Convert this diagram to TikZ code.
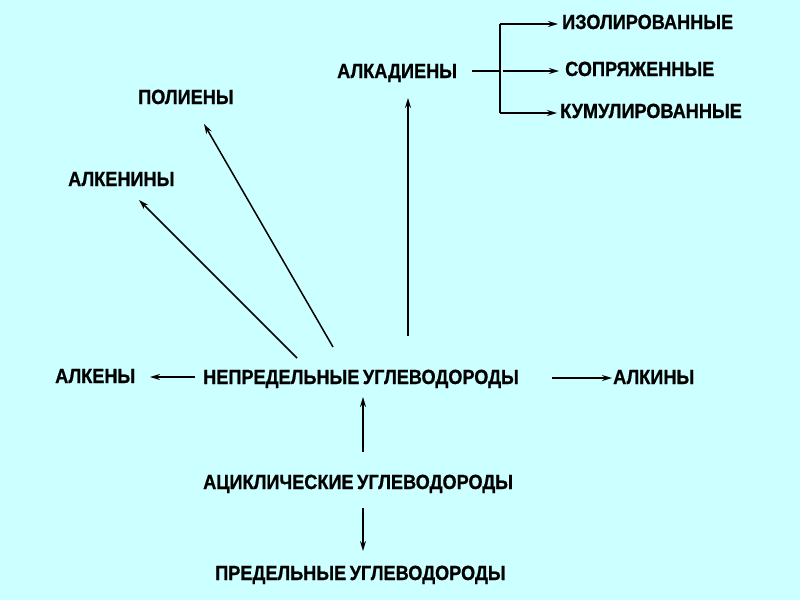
\documentclass[tikz,border=0pt]{standalone}
\usepackage{fontspec}
\setmainfont{Liberation Sans}
\newfontfamily\lblfont{Liberation Sans Bold}[FakeStretch=0.885,FakeBold=0.8]
\newcommand{\lblstyle}{\lblfont\fontsize{20.5}{22}\selectfont\spaceskip=3.5pt\relax}
\usetikzlibrary{arrows.meta}
\definecolor{bg}{HTML}{CCFFFF}
\begin{document}
\begin{tikzpicture}[x=1pt,y=-1pt,
  lbl/.style={anchor=base west,inner sep=0pt,font=\lblstyle},
  conn/.style={line width=1.5pt,-{Stealth[length=10pt,width=6pt]}},
  plain/.style={line width=1.5pt}]
\fill[bg] (0,0) rectangle (800,600);
\useasboundingbox (0,0) rectangle (800,600);
% labels
\node[lbl] (izo) at (562,29) {ИЗОЛИРОВАННЫЕ};
\node[lbl] (sop) at (565,76) {СОПРЯЖЕННЫЕ};
\node[lbl] (kum) at (560,118) {КУМУЛИРОВАННЫЕ};
\node[lbl] (alkad) at (337,78) {АЛКАДИЕНЫ};
\node[lbl] (pol) at (138,104) {ПОЛИЕНЫ};
\node[lbl] (alken) at (68,186) {АЛКЕНИНЫ};
\node[lbl] (alk) at (55,383) {АЛКЕНЫ};
\node[lbl] (nep) at (203,384) {НЕПРЕДЕЛЬНЫЕ УГЛЕВОДОРОДЫ};
\node[lbl] (alkin) at (613,384) {АЛКИНЫ};
\node[lbl] (acik) at (203,489) {АЦИКЛИЧЕСКИЕ УГЛЕВОДОРОДЫ};
\node[lbl] (pred) at (215,580) {ПРЕДЕЛЬНЫЕ УГЛЕВОДОРОДЫ};
% connector end points
\coordinate (b0) at (472,71);
\coordinate (b1) at (500,71);
\coordinate (bt) at (500,24);
\coordinate (bb) at (500,113);
\coordinate (bm) at (503,71);
\coordinate (izoe) at (558,24);
\coordinate (sope) at (559,71);
\coordinate (kume) at (557,113);
\coordinate (nepL) at (195,377);
\coordinate (alkE) at (150,377);
\coordinate (nepR) at (552,378);
\coordinate (alkinE) at (612,378);
\coordinate (s1) at (297,358);
\coordinate (alkenE) at (139,200);
\coordinate (s2) at (333,347);
\coordinate (polE) at (204,124);
\coordinate (s3) at (408,336);
\coordinate (alkadE) at (408,98);
\coordinate (acikT) at (363,452);
\coordinate (nepB) at (363,397);
\coordinate (acikB) at (363,508);
\coordinate (predT) at (363,551);
% connectors
\draw[plain] (b0) -- (b1);
\draw[conn] (bt) -- (izoe);
\draw[plain] (bt) -- (bb);
\draw[conn] (bb) -- (kume);
\draw[conn] (bm) -- (sope);
\draw[conn] (nepL) -- (alkE);
\draw[conn] (nepR) -- (alkinE);
\draw[conn] (s1) -- (alkenE);
\draw[conn] (s2) -- (polE);
\draw[conn] (s3) -- (alkadE);
\draw[conn] (acikT) -- (nepB);
\draw[conn] (acikB) -- (predT);
\end{tikzpicture}
\end{document}
